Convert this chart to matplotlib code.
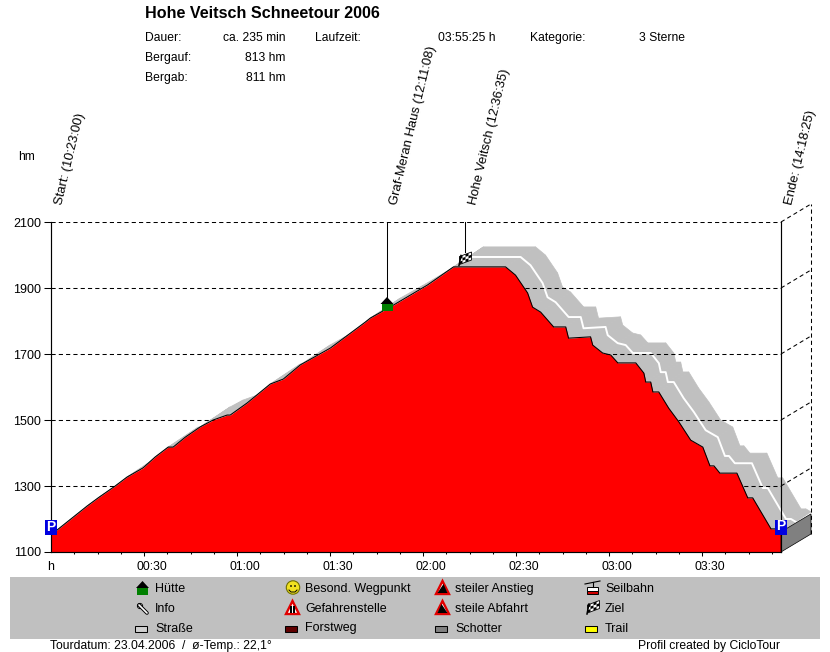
import matplotlib
matplotlib.use("Agg")
import matplotlib.pyplot as plt
from matplotlib.patches import Rectangle, Polygon, Circle

plt.rcParams['font.family'] = ['Liberation Sans', 'DejaVu Sans']

# Hoehenprofil (Minuten seit Start, hm)
minutes = [0, 1.6, 5.2, 11.6, 15.2, 20.7, 24.5, 29.7, 33.6, 37.8, 39.4, 43.3, 48.1, 52.3, 56.8, 57.8,
           63.3, 70.7, 74.9, 80.4, 90.1, 101.4, 103.0, 110.4, 121.4, 129.8, 146.6, 149.8, 153.7, 155.3,
           157.9, 162.1, 166.0, 166.9, 174.0, 174.7, 177.9, 180.5, 182.8, 188.6, 191.2, 191.8, 193.4,
           194.1, 196.0, 199.2, 202.5, 206.3, 210.2, 212.5, 213.8, 215.7, 221.2, 224.7, 226.3, 232.2,
           233.8, 235.4]
height = [1152, 1164, 1191, 1239, 1264, 1300, 1327, 1355, 1388, 1418, 1418, 1448, 1479, 1500, 1515, 1515,
          1552, 1609, 1624, 1667, 1718, 1797, 1809, 1848, 1909, 1964, 1964, 1939, 1885, 1842,
          1827, 1782, 1782, 1748, 1752, 1727, 1703, 1697, 1673, 1673, 1642, 1615, 1615,
          1585, 1585, 1536, 1494, 1439, 1418, 1361, 1361, 1339, 1339, 1264, 1264, 1170,
          1170, 1161]

y_ticks = [1100, 1300, 1500, 1700, 1900, 2100]
x_major = [30, 60, 90, 120, 150, 180, 210]
x_labels = ["00:30", "01:00", "01:30", "02:00", "02:30", "03:00", "03:30"]
x_minor = [7.5, 15, 22.5, 37.5, 45, 52.5, 67.5, 75, 82.5, 97.5, 105, 112.5, 127.5, 135, 142.5,
           157.5, 165, 172.5, 187.5, 195, 202.5, 217.5, 225, 232.5]
t_end = 235.42

waypoints = ["Start: (10:23:00)", "Graf-Meran Haus (12:11:08)", "Hohe Veitsch (12:36:35)", "Ende: (14:18:25)"]
waypoint_min = [0, 108.13, 133.58, t_end]

info_left = [("Dauer:", "ca. 235 min", 38), ("Bergauf:", "813 hm", 58), ("Bergab:", "811 hm", 78)]

legend_col1 = ["Hütte", "Info", "Straße"]
legend_col2 = ["Besond. Wegpunkt", "Gefahrenstelle", "Forstweg"]
legend_col3 = ["steiler Anstieg", "steile Abfahrt", "Schotter"]
legend_col4 = ["Seilbahn", "Ziel", "Trail"]

W, H = 830, 652
fig = plt.figure(figsize=(W / 100, H / 100), dpi=100, facecolor="white")

# ueberlagerte Achse in Pixeln fuer Text und Symbole
px = fig.add_axes([0, 0, 1, 1], zorder=5)
px.set_xlim(0, W)
px.set_ylim(H, 0)
px.axis("off")
px.patch.set_alpha(0)

x0, x1, y_top, y_bot = 51, 781, 222, 552
ax = fig.add_axes([x0 / W, 1 - y_bot / H, (x1 - x0) / W, (y_bot - y_top) / H], zorder=1)
ax.set_xlim(0, t_end)
ax.set_ylim(1100, 2100)
ax.patch.set_alpha(0)

# 3D-Versatz in Datenkoordinaten
dx = 30 * t_end / (x1 - x0)
dy = 18 * 1000 / (y_bot - y_top)
band = 20 * 1000 / (y_bot - y_top)

# graues Band: Profil nach hinten extrudiert
for i in range(len(minutes) - 1):
    quad = [(minutes[i], height[i]), (minutes[i + 1], height[i + 1]),
            (minutes[i + 1] + dx, height[i + 1] + band), (minutes[i] + dx, height[i] + band)]
    ax.add_patch(Polygon(quad, closed=True, fc="#c0c0c0", ec="#c0c0c0", lw=0.5, clip_on=False, zorder=1))
ax.plot([m + dx * 0.5 for m in minutes[25:]], [h + dy * 0.55 for h in height[25:]],
        color="white", lw=1.4, clip_on=False, zorder=2)

# Gitter hinter dem roten Profil
for t in y_ticks[1:]:
    ax.plot([0, t_end], [t, t], color="black", lw=0.75, dashes=(4, 3), zorder=3)
    ax.plot([t_end, t_end + dx], [t, t + dy], color="black", lw=0.75, dashes=(4, 3), clip_on=False, zorder=3)
ax.plot([t_end + dx, t_end + dx], [1100 + dy, 2100 + dy], color="black", lw=0.75, dashes=(4, 3),
        clip_on=False, zorder=3)

ax.fill_between(minutes, 1100, height, color="#ff0000", lw=0, zorder=4)
ax.plot(minutes, height, color="black", lw=0.75, zorder=5)

# rechte Seitenwand
ax.add_patch(Polygon([(t_end, 1100), (t_end + dx, 1100 + dy), (t_end + dx, 1161 + dy), (t_end, 1161)],
                     closed=True, fc="#808080", ec="black", lw=0.5, clip_on=False, zorder=5))

ax.spines["top"].set_visible(False)
for s in ax.spines.values():
    s.set_linewidth(0.85)
    s.set_zorder(6)

ax.set_yticks(y_ticks)
ax.set_yticklabels([str(t) for t in y_ticks], fontsize=9)
ax.tick_params(axis="y", length=5, width=0.75, pad=2)
ax.set_xticks(x_major)
ax.set_xticklabels([])
ax.set_xticks(x_minor, minor=True)
ax.tick_params(axis="x", which="major", length=3, width=0.75)
ax.tick_params(axis="x", which="minor", length=1.5, width=0.75)

for m, lab in zip(x_major, x_labels):
    px.text(x0 + m * (x1 - x0) / t_end + 8, 566.5, lab, ha="center", va="center", fontsize=8.7)
px.text(51, 566.5, "h", ha="center", va="center", fontsize=9)
px.text(26, 157, "hm", ha="center", va="center", fontsize=8.7)

# Wegpunkte
for m, lab in zip(waypoint_min, waypoints):
    xp = x0 + m * (x1 - x0) / t_end
    px.text(xp + 11, 205, lab, rotation=76.5, rotation_mode="anchor", ha="left", va="baseline", fontsize=9.4)
px.plot([387, 387], [222, 298], color="black", lw=0.75)
px.plot([465, 465], [222, 252], color="black", lw=0.75)


def parking(x, y):
    px.add_patch(Rectangle((x - 6, y - 7.5), 11.5, 15, fc="#0000e0", ec="none"))
    px.text(x - 0.2, y - 0.5, "P", color="white", fontsize=10, fontweight="bold", ha="center", va="center")


def hut(x, y):
    px.add_patch(Polygon([(x - 6.5, y), (x + 6.5, y), (x, y - 7)], fc="black", ec="none"))
    px.add_patch(Rectangle((x - 5.5, y), 11, 7, fc="#008000", ec="none"))


def flag(x, y):
    px.plot([x - 6, x - 4], [y + 7, y - 3], color="black", lw=1.1)
    px.add_patch(Polygon([(x - 5.5, y - 2), (x + 6.5, y - 6.5), (x + 6.5, y + 1.5), (x - 5.5, y + 6)],
                         fc="white", ec="black", lw=0.6))
    for i in range(4):
        for j in range(3):
            if (i + j) % 2 == 0:
                xs = x - 5.5 + i * 3
                ys = y - 2 - i * 1.1 + j * 2.6
                px.add_patch(Polygon([(xs, ys), (xs + 3, ys - 1.1), (xs + 3, ys + 1.5), (xs, ys + 2.6)],
                                     fc="black", ec="none"))


def warn(x, y, inner=None):
    px.add_patch(Polygon([(x - 6.5, y + 6.5), (x + 6.5, y + 6.5), (x, y - 6.5)], fc="white", ec="#e00000", lw=1.7))
    if inner == "up":
        px.add_patch(Polygon([(x - 5, y + 5.5), (x + 5, y + 5.5), (x + 1, y - 3.5)], fc="black", ec="none"))
    elif inner == "down":
        px.add_patch(Polygon([(x - 5, y + 5.5), (x + 5, y + 5.5), (x - 1, y - 3.5)], fc="black", ec="none"))
    else:
        px.add_patch(Rectangle((x - 2.5, y - 2), 5, 7, fc="black", ec="none"))
        px.add_patch(Rectangle((x - 0.5, y - 2), 1, 7, fc="white", ec="none"))


def swatch(x, y, color):
    px.add_patch(Rectangle((x - 6, y - 2.5), 12, 5.5, fc=color, ec="black", lw=0.75))


parking(51, 527.5)
parking(781, 527)
hut(387, 304)
flag(465, 258.5)

# Kopfzeilen
px.text(145, 14, "Hohe Veitsch Schneetour 2006", fontsize=11.6, fontweight="bold", va="center")
for name, val, y in info_left:
    px.text(144.5, y, name, fontsize=8.7, va="center")
    px.text(285, y, val, fontsize=8.7, va="center", ha="right")
px.text(315, 38, "Laufzeit:", fontsize=8.7, va="center")
px.text(495, 38, "03:55:25 h", fontsize=8.7, va="center", ha="right")
px.text(530, 38, "Kategorie:", fontsize=8.7, va="center")
px.text(685, 38, "3 Sterne", fontsize=8.7, va="center", ha="right")

# Legende
px.add_patch(Rectangle((10, 577), 810, 62, fc="#c0c0c0", ec="none"))
rows = [589, 608.5, 628.5]
for col, xt in zip([legend_col1, legend_col2, legend_col3, legend_col4], [155, 305, 455, 605]):
    for lab, y in zip(col, rows):
        px.text(xt, y, lab, fontsize=9, va="center")

hut(142.5, 588)
px.plot([139, 147], [605, 613], color="black", lw=2.6, solid_capstyle="round")
px.plot([139, 147], [605, 613], color="white", lw=1.2, solid_capstyle="round")
px.add_patch(Circle((140, 606), 2.6, fc="white", ec="black", lw=0.7))
swatch(141, 628.5, "#d0d0d0")
px.add_patch(Circle((293, 587.5), 6.7, fc="#f0e020", ec="#707000", lw=0.8))
px.add_patch(Circle((291, 586), 0.9, fc="black"))
px.add_patch(Circle((295, 586), 0.9, fc="black"))
px.plot([289, 291, 295, 297], [590, 592, 592, 590], color="black", lw=0.7)
warn(292.5, 607.5)
swatch(291, 628.5, "#600000")
warn(442.5, 587.5, "up")
warn(442.5, 607.5, "down")
swatch(441, 628.5, "#808080")
# Seilbahn
px.add_patch(Rectangle((587, 587), 11, 3.5, fc="white", ec="black", lw=0.7))
px.add_patch(Rectangle((587, 590.5), 11, 3.5, fc="#d00000", ec="black", lw=0.7))
px.plot([585, 600], [584, 581], color="black", lw=0.8)
px.plot([592.5, 592.5], [582, 587], color="black", lw=0.8)
flag(593, 607)
swatch(591, 628.5, "#ffff00")

# Fusszeile
px.text(50, 646.5, "Tourdatum: 23.04.2006  /  ø-Temp.: 22,1°", fontsize=8.7, va="center")
px.text(780, 646.5, "Profil created by CicloTour", fontsize=8.7, va="center", ha="right")

fig.savefig("out.png", dpi=100)
